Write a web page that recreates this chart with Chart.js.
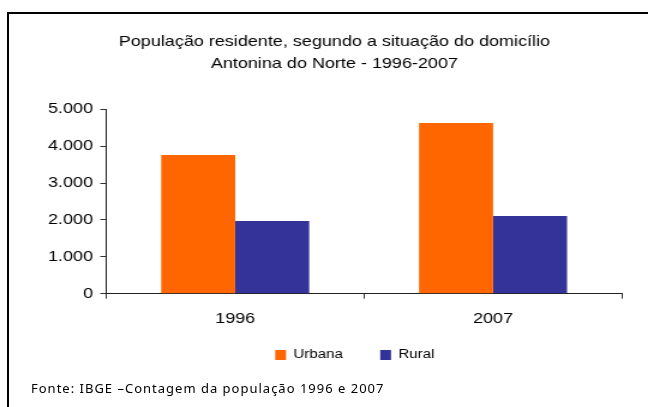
<!DOCTYPE html>
<html>
<head>
<meta charset="utf-8">
<script src="https://cdn.jsdelivr.net/npm/chart.js@4"></script>
<style>
  body { margin: 0; background: #fff; width: 648px; height: 407px; overflow: hidden; position: relative; }
  #moldura { position: absolute; left: 7px; top: 12px; width: 700px; height: 500px; border-top: 2px solid #000; border-left: 2px solid #000; }
  #caixa { position: absolute; left: 0; top: 0; width: 540px; height: 407px; transform: scaleX(1.2); transform-origin: 0 0; }
  #fonte { position: absolute; left: 31px; top: 379px; font-family: "Noto Sans", sans-serif; font-size: 13px; letter-spacing: 1px; color: #000; white-space: nowrap; }
</style>
</head>
<body>
<div id="moldura"></div>
<div id="caixa"><canvas id="grafico" width="540" height="407"></canvas></div>
<div id="fonte">Fonte: IBGE –Contagem da população 1996 e 2007</div>
<script>
// Dados
const anos = ["1996", "2007"];
const urbana = [3760, 4630];
const rural = [1970, 2105];
const titulo = ["População residente, segundo a situação do domicílio", "Antonina do Norte - 1996-2007"];

const fonteBase = { family: '"Liberation Sans", Arial, sans-serif', size: 15 };

// formata 5000 -> 5.000
const milhar = (v) => String(v).replace(/\B(?=(\d{3})+(?!\d))/g, ".");

// Reposiciona título e legenda
const ajusteLegenda = {
  id: "ajusteLegenda",
  afterLayout(chart) {
    const tit = chart.titleBlock;
    tit.left += 2.5;
    tit.right += 2.5;
    const leg = chart.legend;
    const h = leg.height;
    leg.left += 19.5;
    leg.right += 19.5;
    leg.top = 317.5;
    leg.bottom = 317.5 + h;
  }
};

const ctx = document.getElementById("grafico").getContext("2d");
new Chart(ctx, {
  type: "bar",
  data: {
    labels: anos,
    datasets: [
      { label: "Urbana", data: urbana, backgroundColor: "#FF6600" },
      { label: "Rural", data: rural, backgroundColor: "#333399" }
    ]
  },
  options: {
    responsive: false,
    animation: false,
    layout: { padding: { left: 34, right: 21.7, top: 0, bottom: 15 } },
    datasets: { bar: { categoryPercentage: 0.574, barPercentage: 1 } },
    plugins: {
      title: {
        display: true,
        text: titulo,
        color: "#000",
        font: { ...fonteBase, weight: "normal", lineHeight: 1.467 },
        padding: { top: 31, bottom: 34.3 }
      },
      legend: {
        position: "bottom",
        labels: {
          color: "#000",
          font: { family: '"Liberation Sans", Arial, sans-serif', size: 12.5 },
          boxWidth: 9,
          boxHeight: 10,
          padding: 31.25
        }
      },
      tooltip: { enabled: false }
    },
    scales: {
      x: {
        offset: true,
        grid: { display: true, drawOnChartArea: false, drawTicks: true, tickLength: 5, color: "#333", offset: true },
        border: { display: true, color: "#222", width: 1 },
        ticks: { color: "#000", font: fonteBase, padding: 10.8 }
      },
      y: {
        min: 0,
        max: 5000,
        grid: { display: true, drawOnChartArea: false, drawTicks: true, tickLength: 5, color: "#333" },
        border: { display: true, color: "#222", width: 1 },
        ticks: { stepSize: 1000, color: "#000", font: fonteBase, padding: 6, callback: milhar }
      }
    }
  },
  plugins: [ajusteLegenda]
});
</script>
</body>
</html>
